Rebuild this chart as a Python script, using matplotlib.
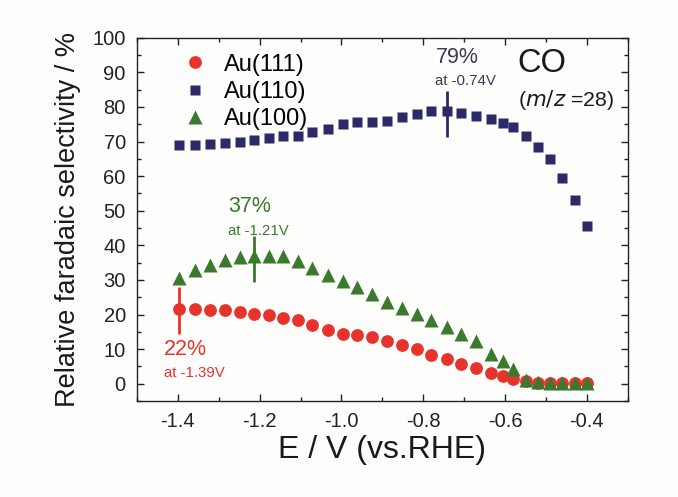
import matplotlib.pyplot as plt
from matplotlib.ticker import MultipleLocator

plt.rcParams['font.family'] = ['Liberation Sans', 'DejaVu Sans']

# potentials (V vs. RHE), shared by all three facets
potential = [-1.396, -1.359, -1.322, -1.285, -1.249, -1.214, -1.178, -1.142, -1.107, -1.071,
             -1.034, -0.997, -0.961, -0.926, -0.889, -0.853, -0.816, -0.781, -0.743, -0.708,
             -0.672, -0.635, -0.606, -0.580, -0.550, -0.519, -0.490, -0.460, -0.428, -0.400]

au111 = [21.7, 21.7, 21.4, 21.3, 20.8, 20.3, 19.8, 19.1, 18.4, 16.9,
         15.5, 14.5, 14.1, 13.6, 12.5, 11.3, 10.0, 8.4, 7.2, 5.7,
         4.6, 3.1, 2.3, 1.5, 0.7, 0.2, 0.2, 0.2, 0.2, 0.2]
au110 = [69.0, 69.0, 69.2, 69.7, 69.8, 70.5, 70.9, 71.6, 71.7, 72.7,
         73.7, 75.0, 75.6, 75.7, 76.0, 77.1, 77.9, 78.9, 78.9, 78.4,
         77.5, 76.5, 75.5, 74.2, 71.6, 68.4, 65.1, 59.6, 53.2, 45.7]
au100 = [30.7, 32.8, 34.3, 35.9, 36.6, 37.0, 37.0, 36.8, 35.5, 33.6,
         31.5, 29.7, 28.0, 25.9, 23.7, 22.0, 20.1, 18.3, 16.5, 14.4,
         12.3, 8.7, 6.7, 4.3, 1.2, 0.4, 0.2, 0.2, 0.2, 0.2]

# maxima with spread
peak_x = [-1.396, -1.214, -0.743]
peak_y = [21.3, 36.0, 78.0]
peak_err = [6.8, 6.6, 6.6]
peak_text = ['22%', '37%', '79%']
peak_sub = ['at -1.39V', 'at -1.21V', 'at -0.74V']

red = '#e8322c'
navy = '#2c2969'
green = '#3b7a2e'

fig = plt.figure(figsize=(6.78, 4.97), dpi=100, facecolor='#fdfdfb')
ax = fig.add_axes([0.202, 0.193, 0.724, 0.731])
ax.set_facecolor('#fdfdfb')

ax.plot(potential, au111, 'o', color=red, ms=9.2, mec='none', label='Au(111)')
ax.plot(potential, au110, 's', color=navy, ms=7.8, mec='none', label='Au(110)')
ax.plot(potential, au100, '^', color=green, ms=10, mec='none', label='Au(100)')

for px, py, pe, c in zip(peak_x, peak_y, peak_err, [red, green, navy]):
    ax.errorbar([px], [py], yerr=[pe], fmt='none', ecolor=c, elinewidth=2, capsize=0)

ax.text(-1.434, 9.9, peak_text[0], color=red, fontsize=15.5, va='center', ha='left')
ax.text(-1.434, 3.2, peak_sub[0], color=red, fontsize=10.8, va='center', ha='left')
ax.text(-1.278, 51.2, peak_text[1], color=green, fontsize=15.5, va='center', ha='left')
ax.text(-1.278, 44.2, peak_sub[1], color=green, fontsize=10.8, va='center', ha='left')
ax.text(-0.77, 94.2, peak_text[2], color='#3a3a55', fontsize=15.5, va='center', ha='left')
ax.text(-0.772, 87.5, peak_sub[2], color='#3a3a55', fontsize=10.8, va='center', ha='left')

ax.text(-0.571, 92.7, 'CO', color='#1a1a1a', fontsize=23.5, va='center', ha='left')
ax.text(-0.569, 82, r'($\it{m/z}$ =28)', color='#1a1a1a', fontsize=15.4, va='center', ha='left')

ax.set_xlim(-1.5, -0.3)
ax.set_ylim(-5, 100)
ax.xaxis.set_major_locator(MultipleLocator(0.2))
ax.xaxis.set_minor_locator(MultipleLocator(0.1))
ax.yaxis.set_major_locator(MultipleLocator(10))
ax.yaxis.set_minor_locator(MultipleLocator(5))
ax.set_xticks([-1.4, -1.2, -1.0, -0.8, -0.6, -0.4])
ax.set_xticklabels(['-1.4', '-1.2', '-1.0', '-0.8', '-0.6', '-0.4'])
ax.set_yticks(range(0, 101, 10))

ax.tick_params(which='both', direction='in', top=True, right=True, colors='#222222',
               labelsize=14.5, width=1)
ax.tick_params(which='major', length=5)
ax.tick_params(which='minor', length=3)
ax.tick_params(axis='x', pad=8)
ax.tick_params(axis='y', pad=8)
for s in ax.spines.values():
    s.set_color('#222222')
    s.set_linewidth(1)

ax.set_xlabel('E / V (vs.RHE)', fontsize=23, color='#1a1a1a', labelpad=3)
ax.set_ylabel('Relative faradaic selectivity / %', fontsize=19.5, color='#1a1a1a', labelpad=8)

ax.legend(loc='upper left', bbox_to_anchor=(0.055, 0.995), frameon=False, fontsize=17,
          handletextpad=0.55, labelspacing=0.22, borderaxespad=0.2, handlelength=1.4)

fig.savefig('out.png', dpi=100, facecolor=fig.get_facecolor())
